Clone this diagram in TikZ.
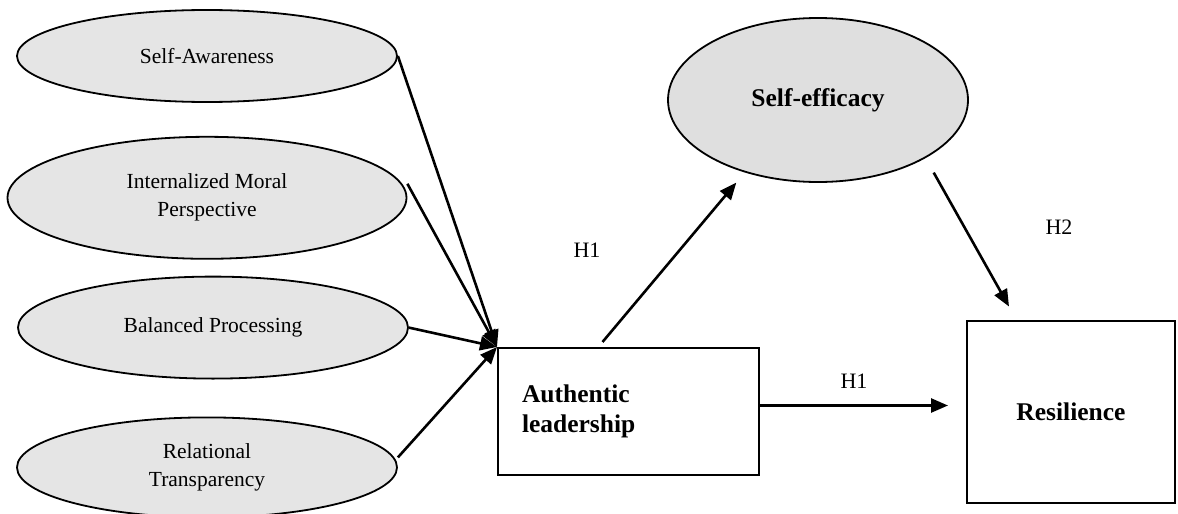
\documentclass[tikz,border=0pt]{standalone}
\usepackage{fontspec}
\setmainfont{Liberation Serif}
\usetikzlibrary{positioning, shapes.geometric, arrows.meta}

\begin{document}
\begin{tikzpicture}[
            x=1pt, y=-1pt,
            dimension/.style={draw=black, line width=1.8pt, ellipse, fill=gray!20, align=center, inner sep=0pt, font=\fontsize{21.5}{28}\selectfont},
            construct/.style={draw=black, line width=2pt, rectangle, inner sep=0pt, font=\bfseries\fontsize{25.5}{30}\selectfont},
            edge/.style={line width=2.6pt, -{Triangle[length=17pt, width=14pt]}},
            hyplabel/.style={font=\fontsize{22}{26}\selectfont}
        ]
        \useasboundingbox (0,0) rectangle (1178,514);

        % Knoten
        \node[dimension, minimum width=380pt, minimum height=92pt] (sa) at (207,56) {Self-Awareness};
        \node[dimension, minimum width=399pt, minimum height=122pt, below=33pt of sa] (imp) {Internalized Moral\\Perspective};
        \node[dimension, minimum width=390pt, minimum height=102pt, below=16pt of imp, xshift=6pt] (bp) {Balanced Processing};
        \node[dimension, minimum width=380pt, minimum height=100pt, below=37pt of bp, xshift=-6pt] (rt) {Relational\\Transparency};

        \node[construct, minimum width=261pt, minimum height=127pt, text width=213pt, align=left] (auth) at (628.5,411.5) {Authentic\\leadership};
        \node[construct, minimum width=208pt, minimum height=182pt, right=206pt of auth] (res) {Resilience};
        \node[dimension, fill=gray!25, minimum width=300pt, minimum height=164pt, font=\bfseries\fontsize{25.5}{30}\selectfont] (se) at (818,100) {Self-efficacy};

        \node[hyplabel] (h1top) at (587,250) {H1};
        \node[hyplabel] (h2) at (1059,227) {H2};

        % Kanten
        \draw[edge] (sa.east) -- (auth.north west);
        \draw[edge] ([yshift=14pt]imp.east) -- (auth.north west);
        \draw[edge] (bp.east) -- (auth.north west);
        \draw[edge] ([yshift=10pt]rt.east) -- (auth.north west);

        \draw[edge] ([xshift=-26pt, yshift=5pt]auth.north) -- ([xshift=25pt, yshift=-24pt]se.south west);
        \draw[edge] ([xshift=9pt, yshift=-14pt]se.south east) -- ([xshift=43pt, yshift=13pt]res.north west);
        \draw[edge] ([yshift=6pt]auth.east) -- ([xshift=-18pt, yshift=6pt]res.west) node[midway, above=12pt, hyplabel] (h1bot) {H1};

    \end{tikzpicture}
\end{document}
